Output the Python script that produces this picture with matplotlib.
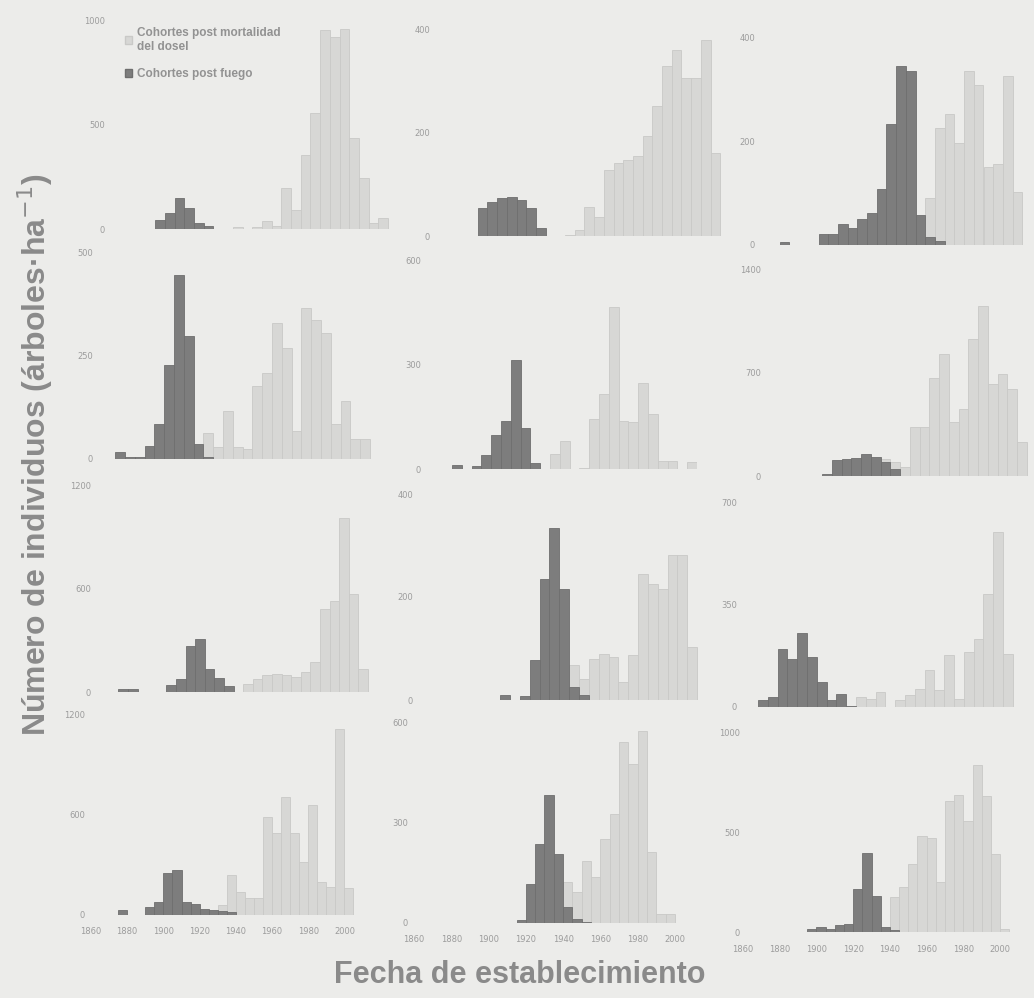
import matplotlib.pyplot as plt
from matplotlib.patches import Patch

W, H, DPI = 1034, 998, 100

# Establishment classes of 5 years, trees per hectare.
# Each panel: first class of each cohort type and the class values.
fuego_inicio = [1885, 1880, 1880, 1875, 1885, 1900, 1875, 1905, 1875, 1875, 1915, 1895]
dosel_inicio = [1925, 1925, 1955, 1920, 1935, 1925, 1940, 1940, 1925, 1930, 1940, 1940]
y_max = [1000, 400, 400, 500, 600, 1400, 1200, 400, 700, 1200, 600, 1000]

fuego_1 = [45, 76, 148, 100, 29, 13]
dosel_1 = [8, 0, 10, 40, 12, 196, 92, 355, 553, 951, 919, 959, 434, 243, 29, 52]

fuego_2 = [54, 66, 73, 76, 70, 54, 15]
dosel_2 = [2, 12, 57, 37, 128, 141, 147, 155, 194, 252, 329, 360, 306, 306, 379, 160]

fuego_3 = [6, 0, 0, 0, 22, 22, 40, 32, 51, 61, 109, 234, 346, 336, 58, 16, 8]
dosel_3 = [90, 227, 253, 198, 336, 310, 150, 157, 326, 102]

fuego_4 = [16, 6, 6, 32, 84, 228, 444, 296, 36, 4]
dosel_4 = [64, 28, 116, 28, 24, 176, 208, 328, 268, 68, 364, 336, 304, 84, 140, 48, 48]

fuego_5 = [11, 0, 10, 40, 97, 138, 312, 119, 16]
dosel_5 = [43, 81, 0, 2, 143, 214, 466, 138, 135, 248, 157, 24, 24, 0, 20]

fuego_6 = [16, 105, 117, 121, 150, 128, 94, 49]
dosel_6 = [90, 112, 94, 60, 330, 330, 666, 824, 364, 453, 924, 1153, 622, 689, 588, 229]

fuego_7 = [20, 20, 0, 0, 0, 38, 77, 269, 307, 134, 81, 35]
dosel_7 = [48, 77, 96, 106, 96, 86, 115, 173, 480, 528, 1008, 566, 134]

fuego_8 = [10, 0, 8, 77, 234, 334, 215, 26, 10]
dosel_8 = [67, 40, 80, 90, 83, 35, 87, 244, 225, 215, 282, 282, 103]

fuego_9 = [23, 34, 200, 166, 254, 172, 86, 23, 43, 5]
dosel_9 = [34, 29, 51, 0, 23, 40, 63, 126, 57, 177, 29, 189, 235, 389, 601, 183]

fuego_10 = [30, 0, 0, 50, 80, 250, 270, 80, 66, 34, 30, 26, 18]
dosel_10 = [60, 240, 140, 100, 100, 590, 490, 710, 490, 320, 660, 200, 170, 1114, 160]

fuego_11 = [10, 117, 237, 384, 207, 47, 12, 4]
dosel_11 = [122, 92, 187, 137, 252, 327, 542, 477, 577, 212, 27, 27]

fuego_12 = [17, 25, 13, 33, 41, 215, 397, 179, 25, 8]
dosel_12 = [174, 223, 339, 479, 470, 248, 653, 686, 554, 835, 678, 388, 17]

fuego = [fuego_1, fuego_2, fuego_3, fuego_4, fuego_5, fuego_6,
         fuego_7, fuego_8, fuego_9, fuego_10, fuego_11, fuego_12]
dosel = [dosel_1, dosel_2, dosel_3, dosel_4, dosel_5, dosel_6,
         dosel_7, dosel_8, dosel_9, dosel_10, dosel_11, dosel_12]

x_ticks = list(range(1860, 2001, 20))

# Panel placement in pixels: x of 1860, px per year, baseline, top tick, tick label edge
layout = [
    (106.7, 1.94, 229, 20, 105), (439, 1.94, 236, 29, 430), (741, 1.94, 245, 38, 755),
    (85.8, 1.96, 459, 252, 93), (403, 1.96, 469, 260, 421), (744, 1.95, 476, 269, 761),
    (89.6, 1.92, 692, 485, 91), (411.8, 1.967, 700, 494, 413), (728.6, 1.96, 707, 503, 737),
    (91, 1.81, 915, 715, 85), (414, 1.864, 923, 723, 408), (742, 1.843, 932, 732, 740),
]

BG = '#ececea'
LIGHT = '#d7d7d5'
LIGHT_EDGE = '#c9c9c7'
DARK = '#7d7d7d'
DARK_EDGE = '#6e6e6e'
TXT = '#9c9c9c'

fig = plt.figure(figsize=(W / DPI, H / DPI), dpi=DPI, facecolor=BG)

for i in range(12):
    x60, s, y0, ytop, lab = layout[i]
    left = lab + 3
    right = x60 + 150 * s
    top = ytop - 4
    ax = fig.add_axes([left / W, 1 - y0 / H, (right - left) / W, (y0 - top) / H])
    ax.set_facecolor('none')
    ax.set_xlim(1860 - (x60 - left) / s, 2010)
    ax.set_ylim(0, y_max[i] * (y0 - top) / (y0 - ytop))

    yrs_d = [dosel_inicio[i] + 5 * k for k in range(len(dosel[i]))]
    yrs_f = [fuego_inicio[i] + 5 * k for k in range(len(fuego[i]))]
    ax.bar(yrs_d, dosel[i], width=5, align='edge', color=LIGHT,
           edgecolor=LIGHT_EDGE, linewidth=0.6)
    ax.bar(yrs_f, fuego[i], width=5, align='edge', color=DARK,
           edgecolor=DARK_EDGE, linewidth=0.6)

    ax.set_yticks([0, y_max[i] // 2, y_max[i]])
    if i >= 9:
        ax.set_xticks(x_ticks)
    else:
        ax.set_xticks([])
    ax.tick_params(length=0, labelsize=6, colors=TXT, pad=2)
    ax.tick_params(axis='x', pad=9)
    for sp in ax.spines.values():
        sp.set_visible(False)

    if i == 0:
        handles = [Patch(facecolor=LIGHT, edgecolor=LIGHT_EDGE),
                   Patch(facecolor=DARK, edgecolor=DARK_EDGE)]
        leg = ax.legend(handles, ['Cohortes post mortalidad\ndel dosel', 'Cohortes post fuego'],
                        loc='upper left', bbox_to_anchor=(119 / W, 1 - 21 / H),
                        bbox_transform=fig.transFigure, frameon=False,
                        handlelength=0.6, handleheight=0.6, handletextpad=0.4,
                        labelspacing=1.3, borderpad=0,
                        prop={'family': 'Liberation Sans', 'weight': 'bold', 'size': 8.5})
        for t in leg.get_texts():
            t.set_color('#929292')

fig.text(35 / W, 1 - 455 / H, 'Número de individuos (árboles·ha$^{-1}$)',
         rotation=90, ha='center', va='center', color='#8a8a8a',
         family='Liberation Sans', weight='bold', fontsize=23)
fig.text(520 / W, 1 - 975 / H, 'Fecha de establecimiento', ha='center', va='center',
         color='#8a8a8a', family='Liberation Sans', weight='bold', fontsize=22)

fig.savefig('out.png', dpi=DPI, facecolor=BG)
